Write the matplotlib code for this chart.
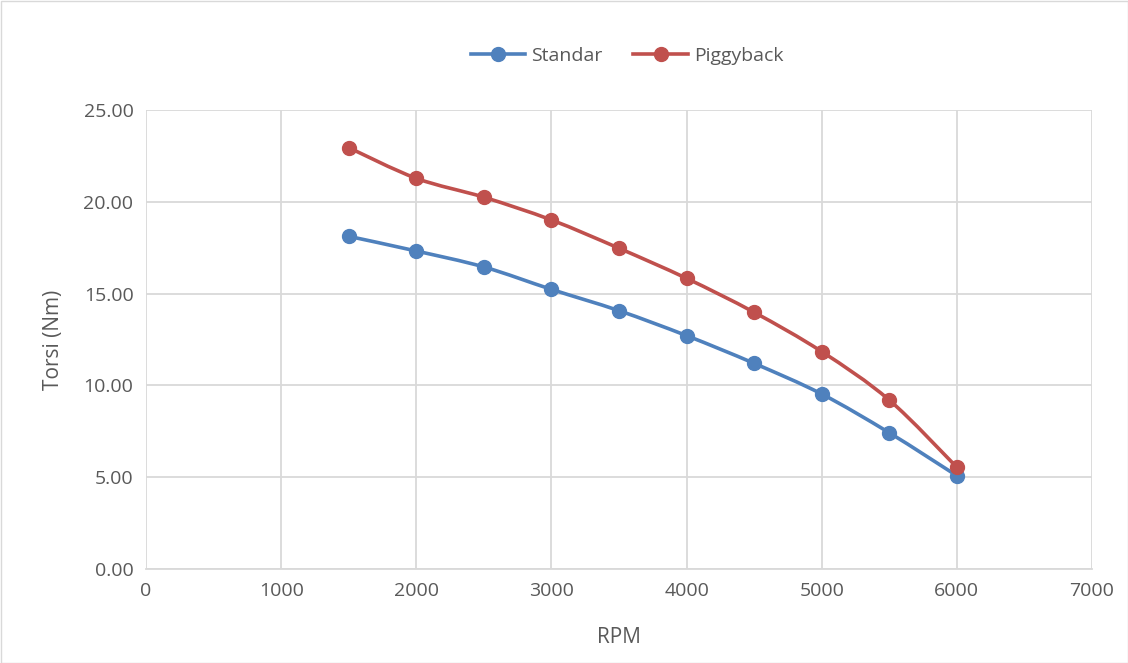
import numpy as np
import matplotlib
matplotlib.use("Agg")
import matplotlib.pyplot as plt
from matplotlib.path import Path
from matplotlib.patches import PathPatch, Rectangle
from matplotlib.lines import Line2D

rpm = [1500, 2000, 2500, 3000, 3500, 4000, 4500, 5000, 5500, 6000]
standar = [18.12, 17.32, 16.45, 15.23, 14.07, 12.71, 11.20, 9.53, 7.42, 5.08]
piggyback = [22.95, 21.28, 20.25, 19.01, 17.47, 15.83, 13.98, 11.84, 9.20, 5.54]
series_names = ["Standar", "Piggyback"]
colors = ["#4F81BD", "#C0504D"]
yticks = [0, 5, 10, 15, 20, 25]
xticks = [0, 1000, 2000, 3000, 4000, 5000, 6000, 7000]

plt.rcParams['font.family'] = ['Open Sans', 'DejaVu Sans']

fig = plt.figure(figsize=(11.28, 6.63), dpi=100)
ax = fig.add_axes([146/1128, 1-569/663, (1092-146)/1128, (569-110)/663])

def smooth_path(x, y, t=1/6):
    x = np.asarray(x, float); y = np.asarray(y, float)
    verts = [(x[0], y[0])]
    codes = [Path.MOVETO]
    n = len(x)
    for i in range(n - 1):
        x0, y0 = (x[i-1], y[i-1]) if i > 0 else (x[i], y[i])
        x3, y3 = (x[i+2], y[i+2]) if i + 2 < n else (x[i+1], y[i+1])
        c1 = (x[i] + (x[i+1] - x0) * t, y[i] + (y[i+1] - y0) * t)
        c2 = (x[i+1] - (x3 - x[i]) * t, y[i+1] - (y3 - y[i]) * t)
        verts += [c1, c2, (x[i+1], y[i+1])]
        codes += [Path.CURVE4] * 3
    return Path(verts, codes)

handles = []
for vals, name, c in zip([standar, piggyback], series_names, colors):
    patch = PathPatch(smooth_path(rpm, vals), facecolor='none', edgecolor=c,
                      lw=2.6, capstyle='round', joinstyle='round', zorder=3)
    ax.add_patch(patch)
    ax.plot(rpm, vals, ls='none', marker='o', ms=10, color=c, zorder=4)
    handles.append(Line2D([], [], color=c, lw=2.6, marker='o', ms=10, label=name))

ax.set_xlim(0, 7000)
ax.set_ylim(0, 25)
ax.set_xticks(xticks)
ax.set_yticks(yticks)
ax.set_yticklabels([f"{v:.2f}" for v in yticks])
ax.grid(True, color='#D9D9D9', lw=1.3, zorder=0)
ax.set_axisbelow(True)
for s in ['top', 'right', 'left']:
    ax.spines[s].set_visible(False)
ax.spines['bottom'].set_color('#D9D9D9')
ax.spines['bottom'].set_linewidth(1.3)
ax.tick_params(length=0, labelsize=14, colors='#595959', pad=9)
ax.set_xlabel("RPM", fontsize=15, color='#595959', labelpad=20)
ax.set_ylabel("Torsi (Nm)", fontsize=15, color='#595959', labelpad=14)

fig.legend(handles=handles, loc='center', bbox_to_anchor=(627/1128, 1-56/663),
           ncol=2, frameon=False, fontsize=14, labelcolor='#595959',
           handlelength=2.8, columnspacing=1.6, handletextpad=0.3)

fig.patches.append(Rectangle((0.5/1128, 0.5/663), 1-1/1128, 1-1/663, transform=fig.transFigure,
                             fill=False, edgecolor='#D9D9D9', lw=1))

fig.savefig("out.png", dpi=100)
